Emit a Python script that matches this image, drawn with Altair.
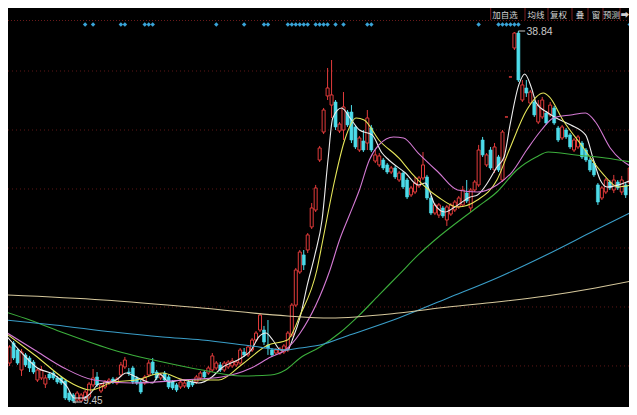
import altair as alt
import pandas as pd

# ---------------- candle data (daily OHLC) ----------------
opens = [15.06, 12.61, 14.19, 13.64, 12.06, 13.25, 13.01, 12.69, 11.27, 11.43,
         10.95, 11.74, 11.82, 11.43, 11.43, 11.19, 10.24, 10.09, 9.69, 9.61,
         9.77, 9.93, 10.88, 11.51, 10.40, 10.72, 11.03, 11.35, 11.03, 11.67,
         12.30, 11.90, 12.22, 11.43, 11.11, 11.03, 11.67, 12.69, 11.90, 11.43,
         11.82, 11.51, 11.11, 10.88, 10.72, 10.80, 11.11, 11.11, 11.11, 11.43,
         11.90, 11.82, 12.06, 12.22, 12.46, 12.06, 12.30, 12.38, 12.46, 12.61,
         13.48, 13.25, 13.64, 14.43, 15.22, 15.22, 14.03, 13.64, 13.40, 13.40,
         13.48, 13.64, 14.82, 17.19, 19.80, 21.15, 21.54, 23.36, 24.70, 28.65,
         30.86, 33.71, 32.99, 33.23, 30.94, 31.02, 32.44, 32.44, 31.26, 29.44,
         30.15, 29.99, 31.18, 28.57, 28.26, 28.65, 28.26, 27.70, 28.02, 27.07,
         27.62, 27.07, 25.89, 26.12, 26.60, 27.23, 27.31, 25.65, 24.46, 24.30,
         24.86, 23.91, 24.38, 24.70, 24.94, 25.10, 26.04, 24.86, 26.28, 26.68,
         30.23, 28.26, 29.44, 27.86, 28.89, 27.07, 32.05, 35.21, 37.50, 38.68,
         33.39, 34.34, 33.15, 33.23, 31.65, 32.05, 32.36, 32.21, 32.76, 31.18,
         30.39, 31.02, 30.63, 29.44, 29.68, 29.99, 29.44, 28.65, 28.41, 26.68,
         25.65, 26.12, 26.91, 26.28, 26.91, 26.12, 26.68, 26.83]
highs = [15.22, 14.03, 14.35, 13.80, 13.72, 13.40, 13.17, 12.85, 12.22, 12.38,
         11.67, 11.90, 11.98, 11.59, 11.59, 11.35, 10.40, 10.24, 10.40, 10.24,
         10.48, 11.11, 12.14, 11.90, 11.03, 11.27, 11.43, 11.51, 11.51, 12.69,
         13.09, 12.22, 12.38, 11.59, 11.27, 11.67, 12.85, 13.01, 12.06, 11.82,
         11.98, 11.67, 11.27, 11.03, 11.27, 11.19, 11.27, 11.27, 11.67, 11.98,
         12.06, 12.38, 13.40, 12.77, 12.69, 12.77, 12.85, 13.01, 12.85, 13.80,
         13.80, 14.03, 14.59, 15.14, 16.56, 15.54, 16.01, 13.80, 13.80, 13.88,
         14.11, 15.14, 17.35, 20.12, 21.54, 21.54, 22.88, 25.25, 26.68, 29.76,
         32.76, 35.92, 36.55, 33.39, 31.65, 34.02, 32.60, 32.99, 31.42, 30.55,
         31.02, 32.60, 31.42, 29.44, 29.20, 28.81, 28.41, 28.18, 28.18, 27.78,
         27.78, 27.23, 26.60, 27.31, 27.39, 29.28, 27.47, 25.81, 25.25, 25.25,
         25.02, 25.10, 25.25, 25.49, 25.81, 26.60, 27.07, 26.44, 27.07, 29.84,
         30.47, 29.20, 29.68, 29.99, 29.05, 31.02, 32.05, 35.21, 38.76, 38.84,
         34.97, 34.97, 34.18, 33.39, 33.39, 33.63, 32.52, 33.23, 32.92, 31.34,
         31.42, 31.18, 30.78, 30.39, 30.63, 30.15, 29.60, 28.81, 28.57, 26.83,
         26.60, 27.23, 27.07, 27.47, 27.07, 27.39, 26.83, 28.26]
lows = [13.48, 12.38, 12.85, 12.46, 11.59, 12.30, 11.90, 11.74, 11.11, 11.27,
        10.64, 11.27, 11.27, 10.95, 10.88, 9.69, 9.53, 9.45, 9.53, 9.53,
        9.61, 9.77, 10.72, 10.72, 10.24, 10.56, 10.88, 10.95, 10.88, 11.51,
        12.14, 11.59, 10.95, 10.88, 10.16, 10.88, 11.51, 11.67, 11.27, 11.27,
        11.11, 10.56, 10.48, 10.32, 10.56, 10.64, 10.56, 10.72, 10.95, 11.27,
        11.35, 11.67, 11.90, 12.06, 11.90, 11.90, 12.14, 12.22, 12.30, 12.46,
        13.09, 13.09, 13.48, 14.27, 15.06, 14.03, 13.25, 13.09, 13.25, 13.25,
        13.33, 13.48, 14.67, 17.04, 19.65, 19.96, 21.30, 23.20, 24.54, 28.49,
        30.70, 33.39, 31.97, 31.02, 30.78, 30.23, 31.26, 29.99, 29.52, 29.28,
        29.28, 29.44, 29.28, 28.41, 28.10, 27.86, 27.54, 27.54, 27.15, 26.91,
        26.36, 25.57, 25.73, 25.96, 26.44, 27.07, 25.49, 24.30, 24.30, 24.07,
        24.07, 23.44, 24.23, 24.54, 24.78, 24.94, 25.25, 24.54, 26.12, 26.52,
        28.89, 28.10, 27.86, 27.62, 27.70, 26.91, 32.05, 35.21, 37.34, 34.81,
        33.23, 33.63, 32.99, 32.05, 31.49, 31.89, 31.42, 32.05, 31.42, 30.07,
        30.23, 30.31, 29.52, 29.28, 29.52, 28.73, 28.49, 27.70, 27.31, 25.10,
        25.49, 25.96, 26.28, 26.04, 26.28, 25.89, 25.65, 26.68]
closes = [13.64, 13.88, 13.01, 12.61, 13.48, 12.46, 12.22, 11.90, 12.06, 12.06,
          11.43, 11.43, 11.43, 11.11, 11.03, 9.85, 9.69, 9.61, 10.24, 10.09,
          10.32, 10.95, 11.43, 10.88, 10.88, 11.11, 11.27, 11.11, 11.35, 12.46,
          12.85, 11.82, 11.11, 11.03, 10.32, 11.51, 12.61, 11.82, 11.43, 11.67,
          11.27, 10.72, 10.64, 10.48, 11.11, 11.03, 10.72, 10.88, 11.51, 11.82,
          11.51, 12.22, 13.17, 12.61, 12.06, 12.61, 12.69, 12.77, 12.69, 13.64,
          13.25, 13.88, 14.43, 14.98, 16.40, 14.27, 13.80, 13.25, 13.64, 13.72,
          13.96, 14.98, 17.19, 19.96, 21.38, 20.36, 22.73, 24.86, 26.44, 29.60,
          32.60, 34.34, 33.79, 31.26, 31.49, 32.84, 31.42, 30.23, 29.68, 30.39,
          29.44, 31.97, 29.44, 29.05, 28.97, 28.02, 27.70, 28.02, 27.31, 27.62,
          26.52, 25.73, 26.44, 26.83, 27.23, 28.26, 25.65, 24.46, 25.10, 25.10,
          24.23, 24.94, 25.10, 25.33, 25.65, 26.28, 25.41, 26.28, 26.91, 29.44,
          29.05, 29.05, 28.02, 29.68, 27.86, 30.86, 32.05, 35.21, 38.68, 34.97,
          34.58, 33.94, 34.02, 32.21, 32.99, 33.39, 31.57, 32.99, 31.57, 30.23,
          31.26, 30.47, 29.68, 30.23, 30.47, 28.89, 28.65, 27.86, 27.47, 25.33,
          26.44, 27.07, 26.44, 27.07, 26.44, 27.07, 25.89, 28.02]

# ---------------- moving averages ----------------
ma5_days = [0, 4.1, 8.0, 12.3, 15.5, 17.2, 19.7, 21.4, 23.4, 26.4, 27.8, 30.3, 32.8, 37.0,
            38.7, 41.2, 44.4, 48.6, 51.9, 54.3, 59.3, 61.8, 63.7, 65.5, 67.2, 69.2, 70.9,
            72.4, 74.1, 75.9, 77.8, 79.6, 81.1, 82.3, 84.5, 87.0, 89.0, 92.2, 94.7, 96.4,
            100.6, 103.8, 105.6, 108.0, 110.5, 113.0, 116.9, 118.7, 121.2, 123.6, 125.4,
            126.9, 129.1, 130.6, 132.3, 133.5, 136.5, 138.5, 142.2, 145.9, 147.9, 149.6,
            151.3, 154.1, 157.5]
ma5_vals = [14.82, 13.40, 12.22, 11.67, 10.72, 9.85, 9.85, 10.24, 10.95, 11.11, 11.27, 11.82,
            11.51, 11.03, 11.74, 11.11, 11.27, 11.03, 11.51, 12.22, 13.01, 13.64, 14.67, 14.98,
            14.43, 13.64, 13.64, 14.67, 16.25, 18.78, 21.15, 23.91, 28.65, 31.97, 32.76, 31.81,
            31.02, 30.63, 29.20, 28.65, 27.62, 26.68, 26.83, 25.10, 24.54, 24.94, 25.73, 25.89,
            26.83, 28.10, 28.89, 31.42, 34.58, 35.44, 34.34, 33.15, 32.36, 31.97, 31.42, 30.63,
            28.65, 27.07, 26.52, 26.68, 27.07]

ma10_days = [0, 7.3, 16.5, 21.4, 27.1, 32.8, 39.5, 45.2, 53.6, 59.3, 66.0, 70.9, 74.1, 78.3,
             79.8, 82.8, 85.3, 88.2, 90.2, 93.9, 98.9, 102.1, 108.8, 113.7, 118.7, 123.6,
             126.9, 131.1, 135.3, 136.8, 140.2, 145.2, 150.1, 154.1, 157.5]
ma10_vals = [14.98, 13.25, 11.03, 10.48, 11.11, 11.27, 11.82, 11.27, 11.27, 12.46, 14.03,
             14.43, 16.40, 19.96, 22.33, 27.07, 30.23, 31.97, 31.81, 30.23, 28.81, 27.62,
             25.73, 24.94, 25.49, 27.07, 29.60, 32.60, 33.94, 33.63, 31.81, 29.68, 27.62,
             26.52, 26.68]

ma20_days = [0, 7.3, 14.7, 22.2, 32.1, 44.4, 54.3, 61.8, 66.7, 70.4, 74.1, 81.6, 84.0, 86.5,
             89.0, 91.5, 93.9, 97.6, 100.1, 103.8, 108.8, 113.7, 118.7, 123.6, 127.4, 131.1,
             134.8, 137.8, 142.2, 145.9, 148.4, 152.1, 157.5]
ma20_vals = [15.06, 13.64, 12.22, 11.27, 11.03, 11.27, 11.51, 12.22, 13.09, 13.64, 14.98,
             19.96, 22.33, 24.30, 26.28, 28.65, 29.84, 30.47, 30.39, 29.20, 27.70, 26.28,
             26.12, 26.68, 27.70, 29.44, 31.02, 31.97, 32.21, 32.36, 31.65, 29.60, 28.10]

ma60_days = [0, 6.1, 14.7, 27.1, 39.5, 49.4, 59.3, 66.7, 70.4, 74.1, 79.1, 84.0, 89.0, 93.9,
             98.9, 103.8, 108.0, 118.7, 123.6, 128.6, 133.5, 136.5, 143.4, 150.9, 157.5]
ma60_vals = [16.64, 16.01, 14.98, 13.64, 12.69, 12.06, 11.59, 11.67, 12.06, 13.01, 13.88,
             14.98, 16.40, 17.98, 19.57, 21.15, 22.33, 24.94, 26.12, 27.86, 28.89, 29.28,
             29.05, 28.81, 28.49]

ma120_days = [0, 12.3, 27.1, 39.5, 49.4, 61.8, 70.4, 74.1, 79.1, 86.5, 98.9, 111.3, 123.6,
              136.0, 148.4, 157.5]
ma120_vals = [16.01, 15.62, 15.06, 14.67, 14.43, 13.96, 13.64, 13.80, 14.03, 14.82, 16.17,
              17.75, 19.33, 21.15, 23.12, 24.54]

ma250_days = [0, 24.6, 49.4, 70.9, 81.6, 98.9, 111.3, 123.6, 136.0, 148.4, 157.5]
ma250_vals = [17.99, 17.59, 16.96, 16.33, 16.17, 16.56, 17.04, 17.43, 17.91, 18.54, 19.09]

ma_names = ["MA5", "MA10", "MA20", "MA60", "MA120", "MA250"]
ma_colors = ["#ececec", "#e6e65a", "#d47ad4", "#3cae3c", "#3a9ec8", "#d6c89c"]

grid_levels = [35.68, 31.02, 26.36, 21.70, 17.04, 12.38]
signal_days = [20, 22, 29, 30, 35, 36, 37, 53, 60, 65, 66, 71, 72, 73, 74, 75, 76,
               78, 79, 80, 81, 83, 85, 91, 92, 119, 124, 125, 126, 127, 128, 129, 157]
buttons = ["加自选", "均线", "复权", "叠", "窗", "预测", "➡"]
high_day, high_val = 129, 38.84
low_day, low_val = 17, 9.45

# ---------------- tables ----------------
n = len(opens)
candles = pd.DataFrame({"day": list(range(n)), "open": opens, "high": highs,
                        "low": lows, "close": closes})
candles["dir"] = ["up" if c >= o else "down" for o, c in zip(opens, closes)]
candles["top"] = [max(o, c) for o, c in zip(opens, closes)]
candles["bot"] = [min(o, c) for o, c in zip(opens, closes)]

rows = []
for name, ds, vs in zip(ma_names,
                        [ma5_days, ma10_days, ma20_days, ma60_days, ma120_days, ma250_days],
                        [ma5_vals, ma10_vals, ma20_vals, ma60_vals, ma120_vals, ma250_vals]):
    for d, v in zip(ds, vs):
        rows.append({"line": name, "day": d, "val": v})
ma_df = pd.DataFrame(rows)

# page is 637x415 with an 8px body margin -> the chart itself is 621x399
W, H = 621, 399
RED = "#e23b3b"
CYAN = "#4ddcea"
xs = alt.Scale(domain=[1.856, 155.57], nice=False, zero=False)
ys = alt.Scale(domain=[9.137, 40.658], nice=False, zero=False)
XD = alt.X("day:Q", scale=xs, axis=None)

base = alt.Chart(candles)

grid = alt.Chart(pd.DataFrame({"level": grid_levels})).mark_rule(
    color="#5e1616", strokeWidth=1, strokeDash=[1, 3]
).encode(y=alt.Y("level:Q", scale=ys, axis=None))

top_line = alt.Chart(pd.DataFrame({"k": [0]})).mark_rule(
    color="#6a1a1a", strokeWidth=1, strokeDash=[1, 2]
).encode(x=alt.value(0), x2=alt.value(W), y=alt.value(12.5))

wicks = base.mark_rule(strokeWidth=1, clip=True).encode(
    x=XD,
    y=alt.Y("low:Q", scale=ys, axis=None),
    y2="high:Q",
    stroke=alt.Stroke("dir:N", scale=alt.Scale(domain=["up", "down"], range=[RED, CYAN]), legend=None),
)

up_bodies = base.transform_filter(alt.datum.dir == "up").mark_bar(
    size=3, clip=True, fill="#000000", stroke=RED, strokeWidth=1
).encode(x=XD, y=alt.Y("bot:Q", scale=ys, axis=None), y2="top:Q")

down_bodies = base.transform_filter(alt.datum.dir == "down").mark_bar(
    size=3, clip=True, fill=CYAN, stroke=CYAN, strokeWidth=0.6
).encode(x=XD, y=alt.Y("bot:Q", scale=ys, axis=None), y2="top:Q")

lines = alt.Chart(ma_df).mark_line(interpolate="monotone", strokeWidth=1.1, clip=True).encode(
    x=XD,
    y=alt.Y("val:Q", scale=ys, axis=None),
    color=alt.Color("line:N", scale=alt.Scale(domain=ma_names, range=ma_colors), legend=None),
    detail="line:N",
)

hi_df = pd.DataFrame({"day": [high_day], "val": [high_val], "label": [f"{high_val:.2f}"]})
lo_df = pd.DataFrame({"day": [low_day], "val": [low_val], "label": [f"{low_val:.2f}"]})

hi_rule = alt.Chart(hi_df).transform_calculate(d2="datum.day + 1.7").mark_rule(
    color="#c8c8c8", strokeWidth=1
).encode(x=XD, x2="d2:Q", y=alt.Y("val:Q", scale=ys, axis=None))
hi_text = alt.Chart(hi_df).mark_text(
    align="left", baseline="middle", dx=8, dy=1, fontSize=10.5, color="#c8c8c8",
    font="Liberation Sans"
).encode(x=XD, y=alt.Y("val:Q", scale=ys, axis=None), text="label:N")

lo_rule = alt.Chart(lo_df).transform_calculate(d2="datum.day + 2.2").mark_rule(
    color="#c8c8c8", strokeWidth=1, yOffset=-1
).encode(x=XD, x2="d2:Q", y=alt.Y("val:Q", scale=ys, axis=None))
lo_arrow = alt.Chart(lo_df).mark_point(
    shape="triangle-left", filled=True, size=12, color="#c8c8c8", yOffset=-1, xOffset=1
).encode(x=XD, y=alt.Y("val:Q", scale=ys, axis=None))
lo_text = alt.Chart(lo_df).mark_text(
    align="left", baseline="middle", dx=10, dy=-2, fontSize=10, color="#c8c8c8",
    font="Liberation Sans"
).encode(x=XD, y=alt.Y("val:Q", scale=ys, axis=None), text="label:N")

signals = alt.Chart(pd.DataFrame({"day": signal_days})).mark_point(
    shape="diamond", filled=True, size=20, color="#39a4d8", opacity=1, clip=True
).encode(x=XD, y=alt.value(16.5))

# button bar (top right)
sep_x = [482.7, 517, 540, 564, 580, 595, 612]
txt_x = [497, 528, 550.5, 572, 588, 603.5, 617]
btn_layers = []
one = pd.DataFrame({"k": [0]})
for sx in sep_x:
    btn_layers.append(alt.Chart(one).mark_rule(color="#7a1c1c", strokeWidth=1).encode(
        x=alt.value(sx), y=alt.value(0), y2=alt.value(12)))
for label, tx in zip(buttons, txt_x):
    btn_layers.append(alt.Chart(one).mark_text(
        text=label, fontSize=8.5, color="#d2d2d2", font="Noto Sans CJK SC",
        align="center", baseline="middle"
    ).encode(x=alt.value(tx), y=alt.value(6.5)))

chart = alt.layer(
    grid, top_line, wicks, up_bodies, down_bodies, lines,
    hi_rule, hi_text, lo_rule, lo_arrow, lo_text, signals, *btn_layers
).resolve_scale(color="independent", stroke="independent").properties(
    width=W, height=H, padding=0, autosize="none", background="#000000"
).configure_view(strokeWidth=0, fill="#000000")

chart.save("out.html", embed_options={"renderer": "svg", "actions": False})
